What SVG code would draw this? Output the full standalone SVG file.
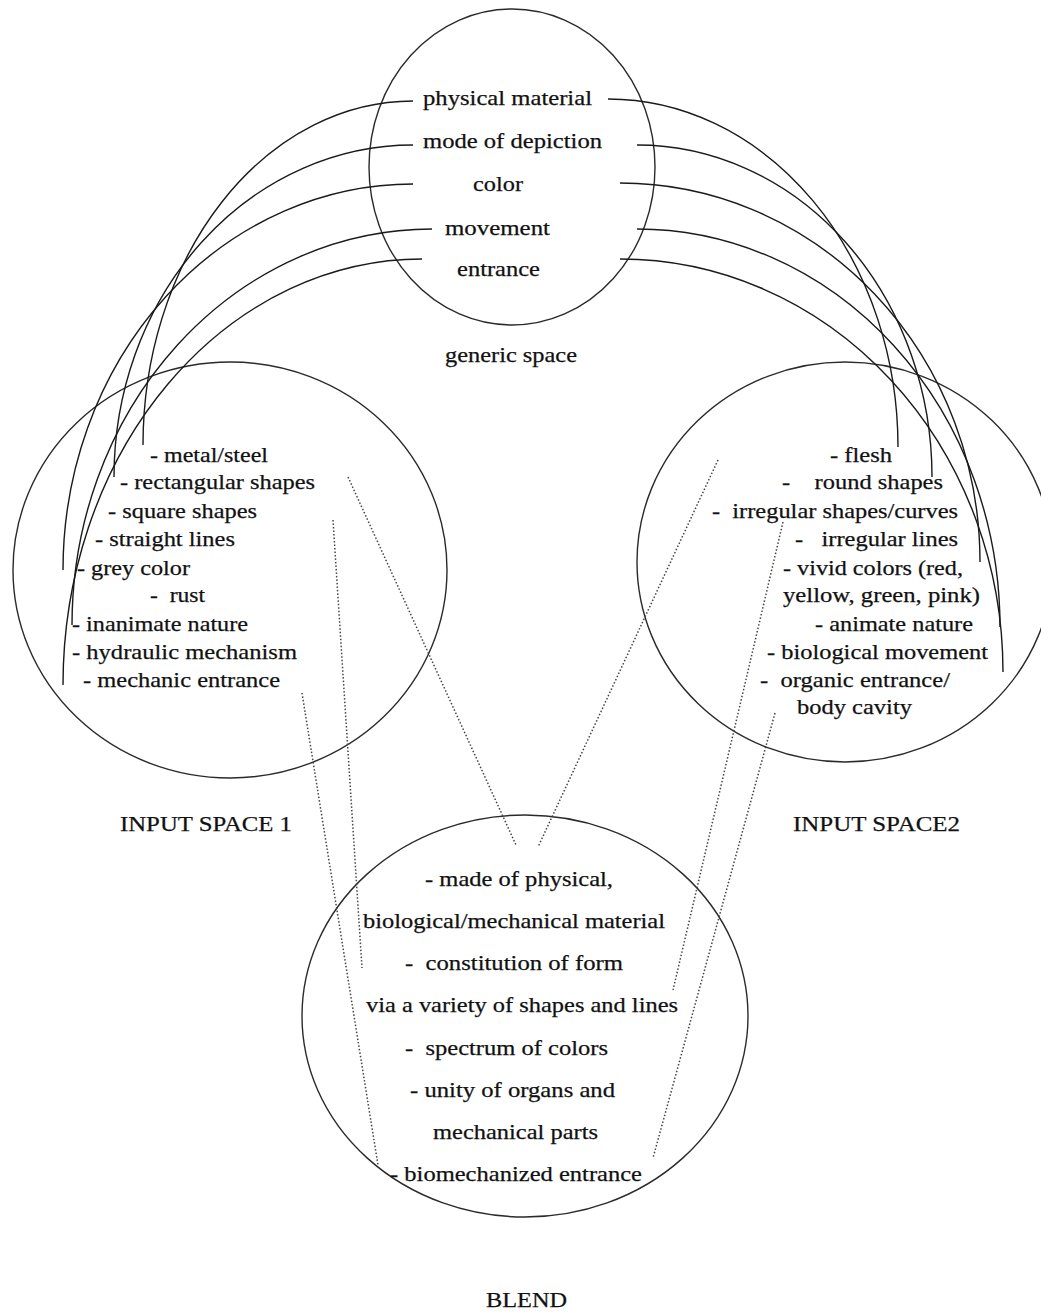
<svg xmlns="http://www.w3.org/2000/svg" width="1041" height="1314" viewBox="0 0 1041 1314" xml:space="preserve">
<style>
  text { font-family: "Liberation Serif", "Times New Roman", serif; font-size: 22px; fill: #111; stroke: #111; stroke-width: 0.25; white-space: pre; }
  .space { fill: none; stroke: #2a2a2a; stroke-width: 1.4; }
  .arc { fill: none; stroke: #1a1a1a; stroke-width: 1.4; }
  .dot { fill: none; stroke: #444; stroke-width: 1.5; stroke-dasharray: 1.5 2; }
</style>
<rect width="1041" height="1314" fill="#fff"/>

<g id="generic-space">
  <ellipse class="space" cx="512" cy="167" rx="143" ry="158"/>
  <text x="423" y="105" textLength="169" lengthAdjust="spacingAndGlyphs">physical material</text>
  <text x="423" y="148" textLength="179" lengthAdjust="spacingAndGlyphs">mode of depiction</text>
  <text x="473" y="191" textLength="50" lengthAdjust="spacingAndGlyphs">color</text>
  <text x="445" y="235" textLength="105" lengthAdjust="spacingAndGlyphs">movement</text>
  <text x="457" y="276" textLength="83" lengthAdjust="spacingAndGlyphs">entrance</text>
  <text x="445" y="362" textLength="132" lengthAdjust="spacingAndGlyphs">generic space</text>
</g>

<g id="input-space-1">
  <ellipse class="space" cx="230" cy="570" rx="217" ry="208"/>
  <text x="150" y="462" textLength="118" lengthAdjust="spacingAndGlyphs">- metal/steel</text>
  <text x="120" y="489" textLength="195" lengthAdjust="spacingAndGlyphs">- rectangular shapes</text>
  <text x="108" y="518" textLength="149" lengthAdjust="spacingAndGlyphs">- square shapes</text>
  <text x="95" y="546" textLength="140" lengthAdjust="spacingAndGlyphs">- straight lines</text>
  <text x="77" y="575" textLength="113" lengthAdjust="spacingAndGlyphs">- grey color</text>
  <text x="150" y="602" textLength="55" lengthAdjust="spacingAndGlyphs">-  rust</text>
  <text x="72" y="631" textLength="176" lengthAdjust="spacingAndGlyphs">- inanimate nature</text>
  <text x="72" y="659" textLength="225" lengthAdjust="spacingAndGlyphs">- hydraulic mechanism</text>
  <text x="83" y="687" textLength="197" lengthAdjust="spacingAndGlyphs">- mechanic entrance</text>
  <text x="120" y="831" textLength="172" lengthAdjust="spacingAndGlyphs">INPUT SPACE 1</text>
</g>

<g id="input-space-2">
  <ellipse class="space" cx="845" cy="562" rx="208" ry="200"/>
  <text x="830" y="462" textLength="62" lengthAdjust="spacingAndGlyphs">- flesh</text>
  <text x="782" y="489" textLength="161" lengthAdjust="spacingAndGlyphs">-    round shapes</text>
  <text x="712" y="518" textLength="246" lengthAdjust="spacingAndGlyphs">-  irregular shapes/curves</text>
  <text x="795" y="546" textLength="163" lengthAdjust="spacingAndGlyphs">-   irregular lines</text>
  <text x="783" y="575" textLength="180" lengthAdjust="spacingAndGlyphs">- vivid colors (red,</text>
  <text x="783" y="602" textLength="197" lengthAdjust="spacingAndGlyphs">yellow, green, pink)</text>
  <text x="815" y="631" textLength="158" lengthAdjust="spacingAndGlyphs">- animate nature</text>
  <text x="767" y="659" textLength="221" lengthAdjust="spacingAndGlyphs">- biological movement</text>
  <text x="760" y="687" textLength="190" lengthAdjust="spacingAndGlyphs">-  organic entrance/</text>
  <text x="797" y="714" textLength="115" lengthAdjust="spacingAndGlyphs">body cavity</text>
  <text x="793" y="831" textLength="167" lengthAdjust="spacingAndGlyphs">INPUT SPACE2</text>
</g>

<g id="blend">
  <ellipse class="space" cx="525" cy="1016" rx="223" ry="201"/>
  <text x="425" y="886" textLength="188" lengthAdjust="spacingAndGlyphs">- made of physical,</text>
  <text x="363" y="928" textLength="302" lengthAdjust="spacingAndGlyphs">biological/mechanical material</text>
  <text x="405" y="970" textLength="218" lengthAdjust="spacingAndGlyphs">-  constitution of form</text>
  <text x="366" y="1012" textLength="312" lengthAdjust="spacingAndGlyphs">via a variety of shapes and lines</text>
  <text x="405" y="1055" textLength="203" lengthAdjust="spacingAndGlyphs">-  spectrum of colors</text>
  <text x="410" y="1097" textLength="205" lengthAdjust="spacingAndGlyphs">- unity of organs and</text>
  <text x="433" y="1139" textLength="165" lengthAdjust="spacingAndGlyphs">mechanical parts</text>
  <text x="390" y="1181" textLength="252" lengthAdjust="spacingAndGlyphs">- biomechanized entrance</text>
  <text x="486" y="1307" textLength="81" lengthAdjust="spacingAndGlyphs">BLEND</text>
</g>

<g id="connectors">
  <path class="arc" d="M413,101 A270,344 0 0 0 143,445"/>
  <path class="arc" d="M413,145 A299,332 0 0 0 114,477"/>
  <path class="arc" d="M413,184 A350,386 0 0 0 63,570"/>
  <path class="arc" d="M432,229 A360,396 0 0 0 72,625"/>
  <path class="arc" d="M422,259 A359,426 0 0 0 63,685"/>
  <path class="arc" d="M608,99 A290,348 0 0 1 898,447"/>
  <path class="arc" d="M637,145 A295,332 0 0 1 932,477"/>
  <path class="arc" d="M620,183 A360,379 0 0 1 980,562"/>
  <path class="arc" d="M637,229 A363,398 0 0 1 1000,627"/>
  <path class="arc" d="M620,259 A383,413 0 0 1 1003,672"/>
  <path class="dot" d="M348,477 L516,845"/>
  <path class="dot" d="M333,520 L362,968"/>
  <path class="dot" d="M302,693 L378,1165"/>
  <path class="dot" d="M718,460 L538,847"/>
  <path class="dot" d="M783,522 L673,990"/>
  <path class="dot" d="M775,713 L653,1158"/>
</g>
</svg>
